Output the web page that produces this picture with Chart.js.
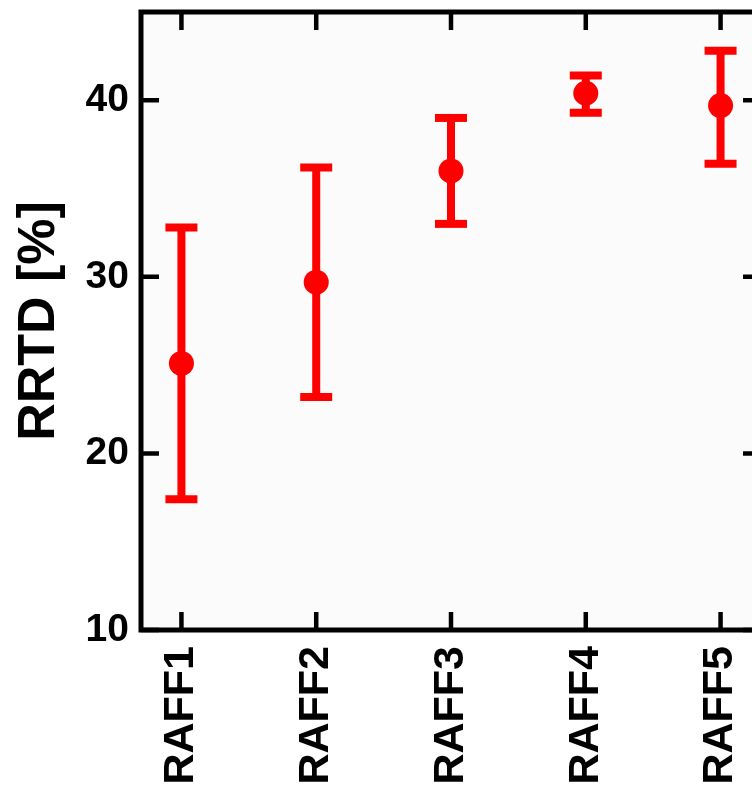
<!DOCTYPE html>
<html>
<head>
<meta charset="utf-8">
<script src="https://cdn.jsdelivr.net/npm/chart.js@4.4.1/dist/chart.umd.min.js"></script>
<style>
  html, body { margin: 0; padding: 0; background: #fff; overflow: hidden; }
  #wrap { width: 752px; height: 789px; overflow: hidden; }
</style>
</head>
<body>
<div id="wrap"><canvas id="chart" width="770" height="789"></canvas></div>
<script>
'use strict';

// categories and values
var categories = ['RAFF1', 'RAFF2', 'RAFF3', 'RAFF4', 'RAFF5'];
var meanValues = [25.1, 29.7, 36.0, 40.4, 39.7];
var upperValues = [32.8, 36.2, 39.0, 41.4, 42.8];
var lowerValues = [17.4, 23.2, 33.0, 39.3, 36.4];
var yTickValues = [10, 20, 30, 40];

var red = '#ff0000';
var fontFamily = "'Liberation Sans', Arial, Helvetica, sans-serif";

// points for the means
var meanPoints = meanValues.map(function(v, i) {
  return { x: i + 1, y: v };
});

// error bars: low -> high, then a gap
var errorPoints = [];
categories.forEach(function(c, i) {
  errorPoints.push({ x: i + 1, y: lowerValues[i] });
  errorPoints.push({ x: i + 1, y: upperValues[i] });
  errorPoints.push({ x: i + 1, y: null });
});

// no extra room for labels at the axis ends
function noPadding(scale) {
  scale.paddingTop = 0;
  scale.paddingBottom = 0;
  scale.paddingLeft = 0;
  scale.paddingRight = 0;
}

// frame, inward ticks and plot background
var framePlugin = {
  id: 'frame',
  beforeDatasetsDraw: function(chart) {
    var a = chart.chartArea, ctx = chart.ctx;
    ctx.save();
    ctx.fillStyle = '#fbfbfb';
    ctx.fillRect(a.left, a.top, a.right - a.left, a.bottom - a.top);
    ctx.restore();
  },
  afterDraw: function(chart) {
    var a = chart.chartArea, ctx = chart.ctx;
    var xs = chart.scales.x, ys = chart.scales.y;
    var len = 18;
    ctx.save();
    ctx.strokeStyle = '#000';
    ctx.lineWidth = 4.5;
    ctx.beginPath();
    yTickValues.forEach(function(v) {
      var py = ys.getPixelForValue(v);
      ctx.moveTo(a.left, py); ctx.lineTo(a.left + len, py);
      ctx.moveTo(a.right, py); ctx.lineTo(a.right - len, py);
    });
    categories.forEach(function(c, i) {
      var px = xs.getPixelForValue(i + 1);
      ctx.moveTo(px, a.bottom); ctx.lineTo(px, a.bottom - len);
      ctx.moveTo(px, a.top); ctx.lineTo(px, a.top + len);
    });
    ctx.stroke();
    ctx.lineWidth = 5;
    ctx.lineJoin = 'miter';
    ctx.strokeRect(a.left, a.top, a.right - a.left, a.bottom - a.top);
    ctx.restore();
  }
};

new Chart(document.getElementById('chart'), {
  type: 'scatter',
  data: {
    datasets: [
      {
        label: 'mean',
        data: meanPoints,
        backgroundColor: red,
        borderColor: red,
        borderWidth: 0,
        pointRadius: 12.5,
        pointHoverRadius: 12.5,
        order: 0
      },
      {
        type: 'line',
        label: 'range',
        data: errorPoints,
        borderColor: red,
        backgroundColor: red,
        borderWidth: 8,
        spanGaps: false,
        fill: false,
        pointStyle: 'line',
        pointRadius: 16,
        pointHoverRadius: 16,
        pointBorderWidth: 8,
        pointBorderColor: red,
        order: 1
      }
    ]
  },
  options: {
    responsive: false,
    animation: false,
    events: [],
    layout: { autoPadding: false, padding: { top: 12, right: 9, left: 0, bottom: 0 } },
    plugins: {
      legend: { display: false },
      tooltip: { enabled: false }
    },
    scales: {
      x: {
        type: 'linear',
        min: 0.7,
        max: 5.3,
        grid: { display: false, drawTicks: false },
        border: { display: false },
        afterBuildTicks: function(scale) {
          scale.ticks = categories.map(function(c, i) { return { value: i + 1 }; });
        },
        afterFit: function(scale) { scale.height = 159; noPadding(scale); },
        ticks: {
          autoSkip: false,
          minRotation: 90,
          maxRotation: 90,
          padding: 16,
          color: '#000',
          font: { family: fontFamily, size: 43, weight: 'bold' },
          callback: function(v) { return categories[Math.round(v) - 1]; }
        }
      },
      y: {
        type: 'linear',
        min: 10,
        max: 45,
        grid: { display: false, drawTicks: false },
        border: { display: false },
        afterBuildTicks: function(scale) {
          scale.ticks = yTickValues.map(function(v) { return { value: v }; });
        },
        afterFit: function(scale) { scale.width = 141; noPadding(scale); },
        ticks: {
          padding: 12,
          color: '#000',
          font: { family: fontFamily, size: 39, weight: 'bold' }
        },
        title: {
          display: true,
          text: 'RRTD [%]',
          color: '#000',
          padding: { top: 8, bottom: 0 },
          font: { family: fontFamily, size: 52, weight: 'bold' }
        }
      }
    }
  },
  plugins: [framePlugin]
});
</script>
</body>
</html>
